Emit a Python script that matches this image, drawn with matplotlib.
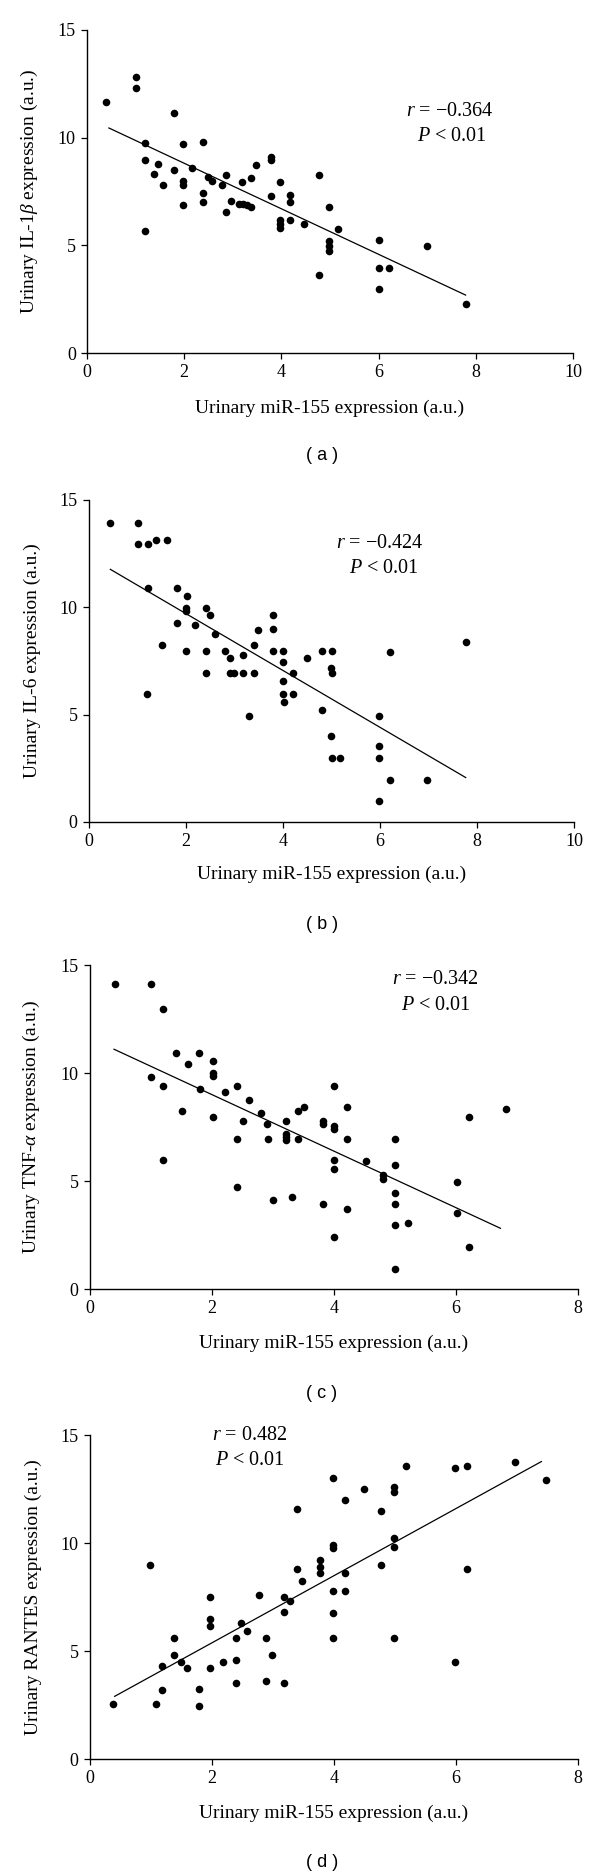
import matplotlib
matplotlib.use("Agg")
import matplotlib.pyplot as plt

plt.rcParams['font.family'] = ['Liberation Serif', 'DejaVu Serif']
plt.rcParams['mathtext.fontset'] = 'custom'
plt.rcParams['mathtext.rm'] = 'Liberation Serif'
plt.rcParams['mathtext.it'] = 'Liberation Serif:italic'

# (a) IL-1beta vs miR-155
a_x = [0.4, 1.0, 1.0, 1.8, 1.2, 1.97, 2.38, 1.2, 1.47, 1.38, 1.57, 1.78, 1.97, 1.97,
       1.97, 2.17, 2.38, 2.38, 2.48, 2.57, 2.78, 2.87, 2.87, 2.97, 3.13, 3.2, 3.3, 3.38,
       3.18, 3.38, 3.48, 3.78, 3.78, 3.97, 3.78, 3.97, 3.97, 3.97, 4.18, 4.18, 4.18,
       4.47, 4.78, 4.78, 4.98, 4.98, 4.98, 4.98, 5.17, 6.0, 6.0, 6.0, 6.22, 7.0, 7.8, 1.2]
a_y = [11.67, 12.82, 12.29, 11.15, 9.74, 9.71, 9.79, 8.94, 8.78, 8.29, 7.8, 8.52, 7.98,
       7.78, 6.87, 8.6, 7.45, 6.99, 8.17, 7.98, 7.8, 8.27, 6.54, 7.05, 6.9, 6.9, 6.85,
       6.79, 7.96, 8.15, 8.71, 9.08, 8.94, 7.96, 7.27, 6.19, 6.0, 5.8, 7.36, 6.99, 6.19,
       5.99, 8.27, 3.62, 6.8, 5.18, 4.98, 4.76, 5.77, 5.26, 3.97, 2.98, 3.97, 4.99, 2.27, 5.67]
a_fit_x = [0.45, 7.79]
a_fit_y = [10.45, 2.69]

# (b) IL-6 vs miR-155
b_x = [0.44, 1.01, 1.01, 1.23, 1.4, 1.62, 1.23, 1.21, 1.52, 1.82, 1.82, 2.02, 2.0, 2.0,
       2.0, 2.2, 2.42, 2.51, 2.42, 2.42, 2.61, 2.81, 2.92, 2.92, 3.0, 3.19, 3.18, 3.31,
       3.41, 3.41, 3.5, 3.8, 3.8, 3.8, 4.0, 4.01, 4.01, 4.0, 4.02, 4.22, 4.22, 4.51, 4.8,
       4.8, 5.01, 5.0, 5.01, 5.0, 5.01, 5.19, 5.99, 5.99, 5.99, 5.99, 6.2, 6.2, 6.97, 7.78]
b_y = [13.94, 13.91, 12.93, 12.93, 13.12, 13.12, 10.91, 5.97, 8.24, 10.91, 9.25, 10.52,
       9.98, 9.82, 7.96, 9.16, 9.98, 9.62, 7.96, 6.96, 8.75, 7.96, 7.62, 6.95, 6.95, 7.77,
       6.95, 4.94, 8.25, 6.95, 8.94, 9.62, 8.97, 7.96, 7.96, 7.46, 6.58, 5.97, 5.6, 6.95,
       5.97, 7.63, 7.96, 5.24, 7.96, 7.16, 6.95, 3.99, 2.97, 2.97, 4.94, 3.56, 2.97, 0.98,
       7.93, 1.97, 1.97, 8.38]
b_fit_x = [0.45, 7.77]
b_fit_y = [11.77, 2.07]

# (c) TNF-alpha vs miR-155
c_x = [0.41, 1.01, 1.21, 1.01, 1.21, 1.21, 1.42, 1.61, 1.51, 1.8, 1.81, 2.02, 2.02, 2.02,
       2.02, 2.22, 2.41, 2.41, 2.41, 2.51, 2.61, 2.81, 2.91, 2.92, 3.0, 3.21, 3.21, 3.21,
       3.21, 3.32, 3.41, 3.51, 3.41, 3.82, 3.82, 3.82, 4.01, 4.01, 4.01, 4.01, 4.01, 4.01,
       4.21, 4.21, 4.21, 4.52, 4.81, 4.81, 5.01, 5.01, 5.01, 5.01, 5.01, 5.22, 5.01, 6.02,
       6.02, 6.21, 6.21, 6.82]
c_y = [14.12, 14.14, 12.95, 9.83, 9.42, 5.95, 10.94, 10.43, 8.24, 10.94, 9.25, 10.54, 9.99,
       9.84, 7.94, 9.13, 9.42, 6.95, 4.74, 7.76, 8.74, 8.15, 7.64, 6.95, 4.12, 7.76, 7.18,
       7.05, 6.9, 4.24, 8.24, 8.42, 6.95, 7.76, 7.64, 3.95, 9.42, 7.54, 7.4, 5.95, 5.55,
       2.42, 8.43, 6.95, 3.71, 5.92, 5.27, 5.1, 6.93, 5.73, 4.44, 3.95, 2.94, 3.06, 0.93,
       4.94, 3.53, 7.95, 1.94, 8.33]
c_fit_x = [0.4, 6.73]
c_fit_y = [11.1, 2.81]

# (d) RANTES vs miR-155
d_x = [0.38, 0.99, 1.08, 1.18, 1.18, 1.39, 1.39, 1.49, 1.59, 1.79, 1.79, 1.98, 1.98, 1.98,
       1.98, 2.19, 2.39, 2.39, 2.39, 2.48, 2.58, 2.78, 2.89, 2.89, 2.99, 3.18, 3.18, 3.18,
       3.29, 3.39, 3.39, 3.48, 3.78, 3.78, 3.78, 3.99, 3.99, 3.99, 3.99, 3.99, 3.99, 4.18,
       4.18, 4.18, 4.49, 4.78, 4.78, 4.98, 4.98, 4.98, 4.98, 4.98, 5.18, 5.98, 5.98, 6.19,
       6.19, 6.97, 7.48]
d_y = [2.53, 8.98, 2.53, 4.32, 3.21, 5.59, 4.81, 4.51, 4.2, 3.26, 2.47, 7.5, 6.47, 6.17,
       4.2, 4.51, 5.59, 4.57, 3.5, 6.3, 5.91, 7.61, 5.59, 3.61, 4.81, 7.5, 6.82, 3.5, 7.31,
       11.57, 8.8, 8.24, 9.2, 8.87, 8.62, 12.99, 9.9, 9.78, 7.8, 6.78, 5.58, 12.01, 8.6, 7.8,
       12.48, 11.5, 8.97, 12.58, 12.38, 10.22, 9.83, 5.58, 13.58, 13.49, 4.51, 13.58, 8.8,
       13.77, 12.92]
d_fit_x = [0.41, 7.4]
d_fit_y = [2.9, 13.77]

x_label = "Urinary miR-155 expression (a.u.)"
y_labels = ["Urinary IL-1$\\beta$ expression (a.u.)", "Urinary IL-6 expression (a.u.)",
            "Urinary TNF-$\\alpha$ expression (a.u.)", "Urinary RANTES expression (a.u.)"]
r_texts = ["$r$ = \u22120.364", "$r$ = \u22120.424", "$r$ = \u22120.342", "$r$ = 0.482"]
p_text = "$P$ < 0.01"
panel_names = ["( a )", "( b )", "( c )", "( d )"]
x_maxes = [10, 10, 8, 8]

W, H = 600, 1876
fig = plt.figure(figsize=(W / 100, H / 100), dpi=100)

# axes boxes in pixels: left, right, top, bottom
boxes = [(87, 573, 30, 353), (88.5, 574, 500, 822), (89.6, 578, 965, 1289),
         (89.6, 578, 1435, 1759)]
text_pos = [((7.47, 11.2), (7.5, 10.05)), ((6.0, 12.98), (6.09, 11.81)),
            ((5.67, 14.31), (5.67, 13.12)), ((2.63, 14.97), (2.63, 13.81))]
xlab_y = [-0.172, -0.162, -0.167, -0.167]
name_y = [455, 924, 1393, 1862]

data = [(a_x, a_y, a_fit_x, a_fit_y), (b_x, b_y, b_fit_x, b_fit_y),
        (c_x, c_y, c_fit_x, c_fit_y), (d_x, d_y, d_fit_x, d_fit_y)]

for i, (xs, ys, fx, fy) in enumerate(data):
    l, r, t, b = boxes[i]
    ax = fig.add_axes([l / W, 1 - b / H, (r - l) / W, (b - t) / H])
    ax.scatter(xs, ys, s=30, color='black', linewidths=0, clip_on=False, zorder=3)
    ax.plot(fx, fy, color='black', lw=0.9)
    ax.set_xlim(0, x_maxes[i])
    ax.set_ylim(0, 15)
    ax.set_xticks(range(0, x_maxes[i] + 1, 2))
    ax.set_yticks([0, 5, 10, 15])
    for s in ['top', 'right']:
        ax.spines[s].set_visible(False)
    for s in ['left', 'bottom']:
        ax.spines[s].set_linewidth(1.0)
    ax.tick_params(direction='out', length=4, width=0.9, labelsize=13, pad=4)
    ax.set_xlabel(x_label, fontsize=14, va='center')
    ax.xaxis.set_label_coords(0.5, xlab_y[i])
    ax.set_ylabel(y_labels[i], fontsize=14)
    ax.yaxis.set_label_coords(-0.097, 0.5)
    (rx, ry), (px, py) = text_pos[i]
    ax.text(rx, ry, r_texts[i], fontsize=14.5, ha='center', va='center')
    ax.text(px, py, p_text, fontsize=14.5, ha='center', va='center')
    fig.text(322 / W, 1 - name_y[i] / H, panel_names[i], fontsize=13,
             family='Liberation Sans', ha='center', va='center')

fig.savefig("out.png", dpi=100)
